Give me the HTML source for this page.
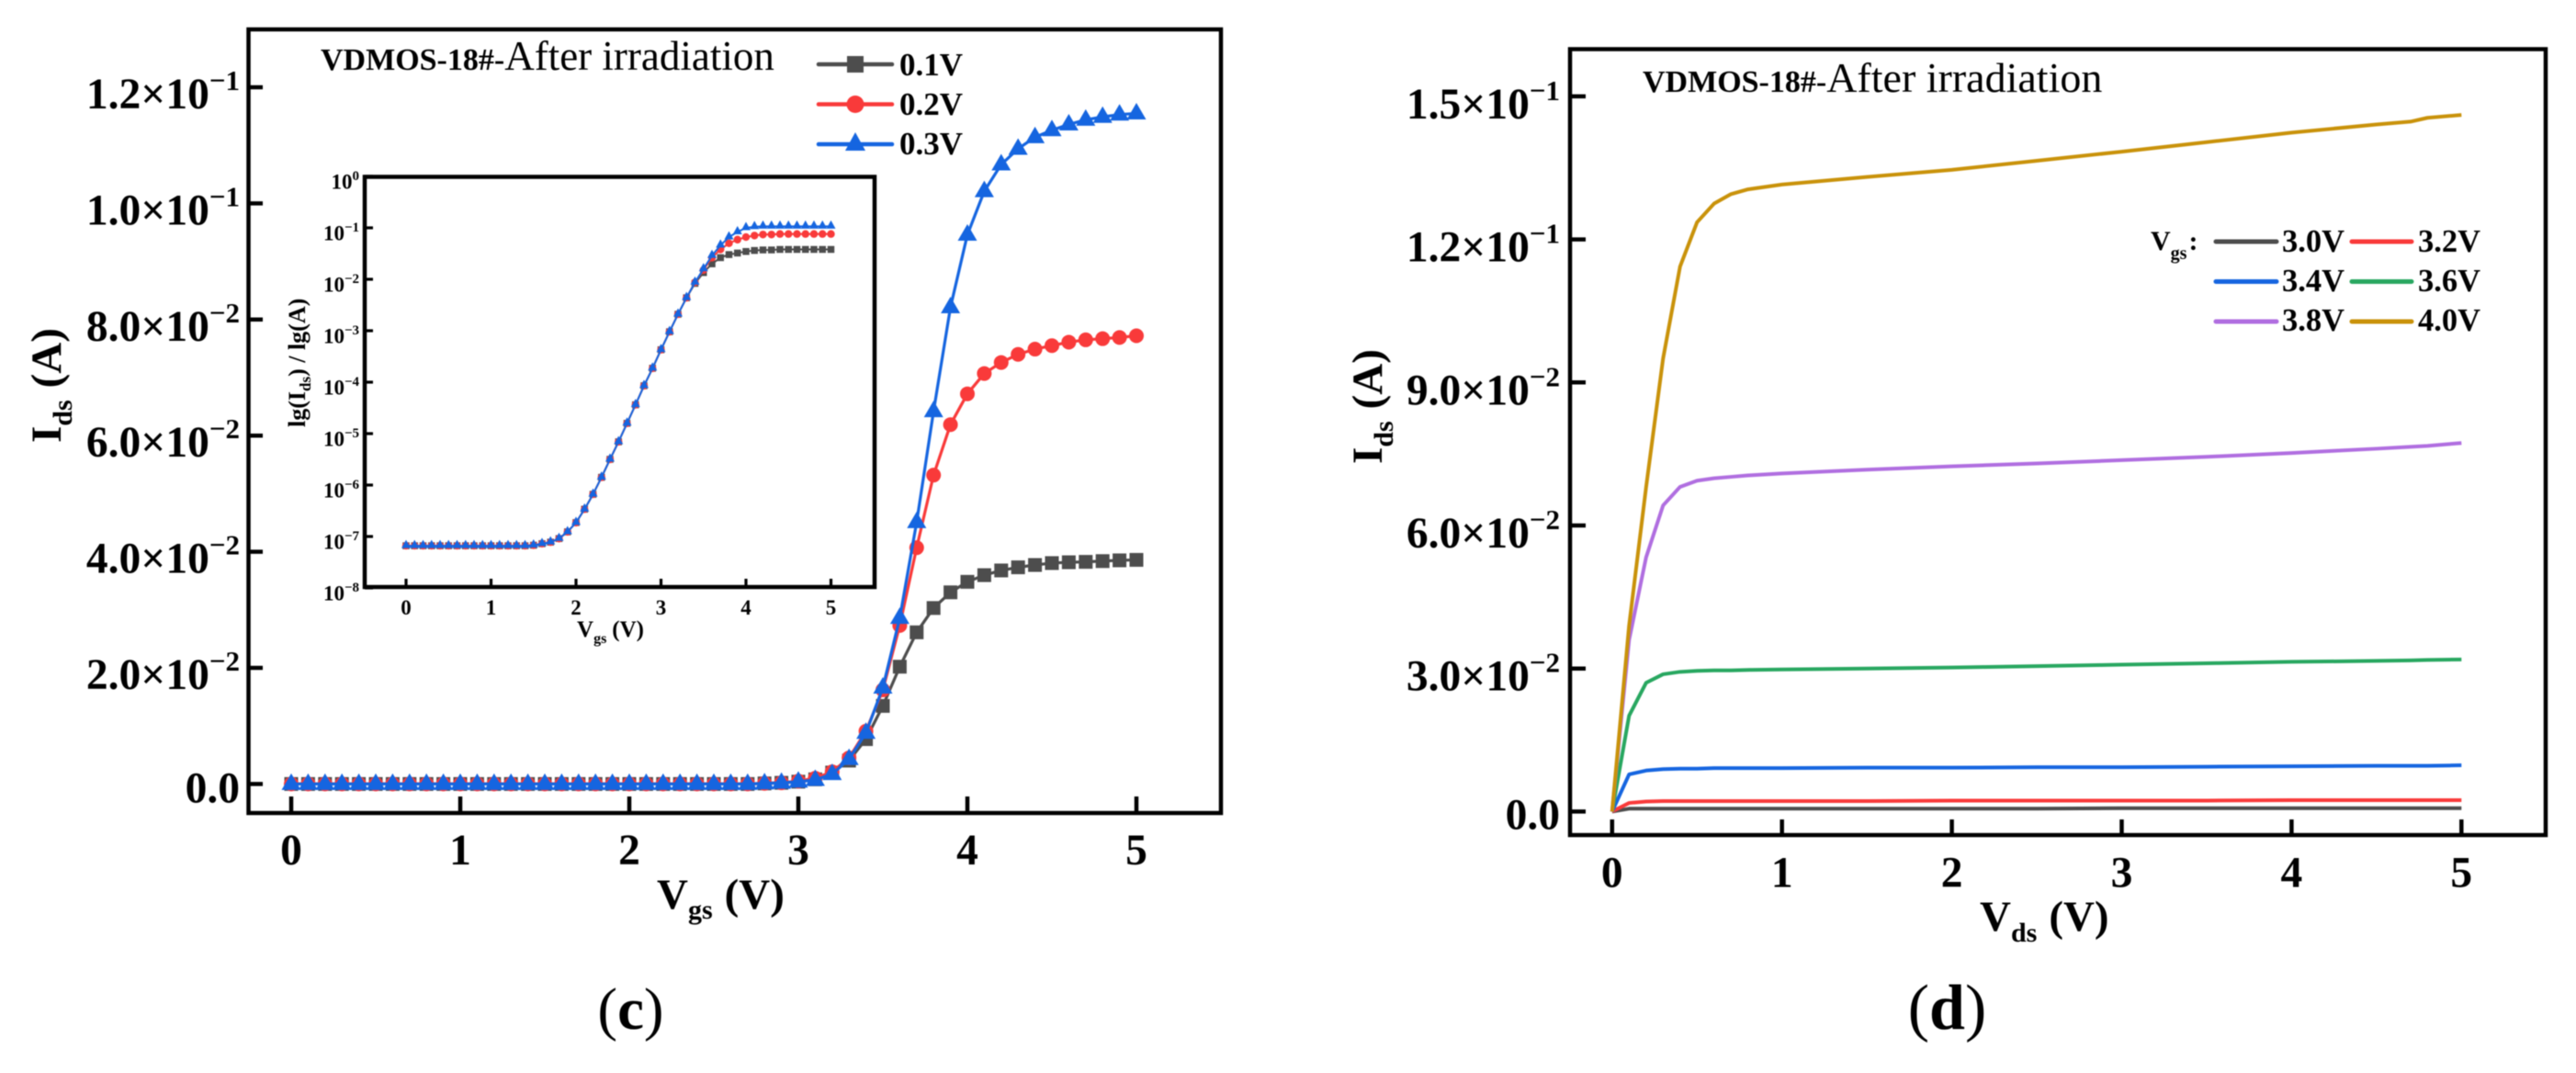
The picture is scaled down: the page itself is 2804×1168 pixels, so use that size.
<!DOCTYPE html>
<html lang="en">
<head>
<meta charset="utf-8">
<title>VDMOS-18# After irradiation</title>
<style>
html,body{margin:0;padding:0;background:#fff;width:2804px;height:1168px;overflow:hidden}
svg{display:block;filter:blur(.55px)}
text{font-family:"Liberation Serif",serif;fill:#000}
.b{font-weight:bold}
.axis{fill:none;stroke:#000;stroke-width:4.5}
.tick{stroke:#000;stroke-width:4.5}
.itick{stroke:#000;stroke-width:3.2}
.curve{fill:none;stroke-linejoin:round}
</style>
</head>
<body>
<svg id="figure" xmlns="http://www.w3.org/2000/svg" width="2804" height="1168" viewBox="0 0 2804 1168">
  <rect width="2804" height="1168" fill="#fff"/>

  <g id="panelC">
    <rect class="axis" x="270.5" y="32" width="1058.5" height="853"/>
    <text x="349" y="76"><tspan class="b" font-size="34">VDMOS-18#-</tspan><tspan font-size="45">After irradiation</tspan></text>
    <text class="b" x="715" y="989" font-size="47">V<tspan font-size="30" dy="11">gs</tspan><tspan font-size="47" dy="-11" dx="13">(V)</tspan></text>
    <text class="b" transform="translate(66 482) rotate(-90)" font-size="47">I<tspan font-size="30" dy="12">ds</tspan><tspan font-size="47" dy="-12" dx="13">(A)</tspan></text>
    <text x="686.5" y="1120" text-anchor="middle" font-size="65">(<tspan class="b">c</tspan>)</text>
    <g>
      <line x1="891" x2="971" y1="70" y2="70" stroke="#4d4d4d" stroke-width="4.5" stroke-linecap="round"/>
      <rect x="922" y="61" width="18" height="18" fill="#4d4d4d"/>
      <text class="b" x="979" y="82" font-size="35">0.1V</text>
      <line x1="891" x2="971" y1="113.5" y2="113.5" stroke="#f93a3a" stroke-width="4.5" stroke-linecap="round"/>
      <circle cx="931" cy="113.5" r="9.5" fill="#f93a3a"/>
      <text class="b" x="979" y="125" font-size="35">0.2V</text>
      <line x1="891" x2="971" y1="157" y2="157" stroke="#1565e0" stroke-width="4.5" stroke-linecap="round"/>
      <polygon points="931,144 942,164 920,164" fill="#1565e0"/>
      <text class="b" x="979" y="168" font-size="35">0.3V</text>
    </g>
  </g>

  <g id="inset">
    <rect class="axis" x="397" y="192.5" width="555" height="446.5"/>
    <text class="b" x="628" y="693" font-size="25">V<tspan font-size="16" dy="7">gs</tspan><tspan font-size="25" dy="-7" dx="6">(V)</tspan></text>
    <text class="b" transform="translate(332 465) rotate(-90)" font-size="26">lg(I<tspan font-size="17" dy="6">ds</tspan><tspan font-size="26" dy="-6">) / lg(A)</tspan></text>
  </g>

  <g id="panelD">
    <rect class="axis" x="1709" y="53.5" width="1062" height="855.5"/>
    <text x="1788" y="100"><tspan class="b" font-size="34">VDMOS-18#-</tspan><tspan font-size="46">After irradiation</tspan></text>
    <text class="b" x="2155" y="1013" font-size="47">V<tspan font-size="30" dy="12">ds</tspan><tspan font-size="47" dy="-12" dx="13">(V)</tspan></text>
    <text class="b" transform="translate(1504 505) rotate(-90)" font-size="47">I<tspan font-size="30" dy="12">ds</tspan><tspan font-size="47" dy="-12" dx="13">(A)</tspan></text>
    <text x="2119.5" y="1120" text-anchor="middle" font-size="70">(<tspan class="b">d</tspan>)</text>
    <g>
      <text class="b" x="2341" y="272" font-size="30">V<tspan font-size="20" dy="10">gs</tspan><tspan font-size="30" dy="-10" dx="2">:</tspan></text>
      <line x1="2412" x2="2478" y1="263" y2="263" stroke="#4d4d4d" stroke-width="5" stroke-linecap="round"/>
      <text class="b" x="2484" y="274" font-size="34.5">3.0V</text>
      <line x1="2560" x2="2625" y1="263" y2="263" stroke="#f93a3a" stroke-width="5" stroke-linecap="round"/>
      <text class="b" x="2632" y="274" font-size="34.5">3.2V</text>
      <line x1="2412" x2="2478" y1="306.5" y2="306.5" stroke="#1565e0" stroke-width="5" stroke-linecap="round"/>
      <text class="b" x="2484" y="317" font-size="34.5">3.4V</text>
      <line x1="2560" x2="2625" y1="306.5" y2="306.5" stroke="#28a760" stroke-width="5" stroke-linecap="round"/>
      <text class="b" x="2632" y="317" font-size="34.5">3.6V</text>
      <line x1="2412" x2="2478" y1="350" y2="350" stroke="#b06ee0" stroke-width="5" stroke-linecap="round"/>
      <text class="b" x="2484" y="360" font-size="34.5">3.8V</text>
      <line x1="2560" x2="2625" y1="350" y2="350" stroke="#c9920a" stroke-width="5" stroke-linecap="round"/>
      <text class="b" x="2632" y="360" font-size="34.5">4.0V</text>
    </g>
  </g>
</svg>

<script>
/* ---------- Panel (c) transfer curves: Vgs 0..5 V in 0.1 V steps ---------- */
const vgs = [0,0.1,0.2,0.3,0.4,0.5,0.6,0.7,0.8,0.9,1,1.1,1.2,1.3,1.4,1.5,1.6,1.7,1.8,1.9,2,2.1,2.2,2.3,2.4,2.5,2.6,2.7,2.8,2.9,3,3.1,3.2,3.3,3.4,3.5,3.6,3.7,3.8,3.9,4,4.1,4.2,4.3,4.4,4.5,4.6,4.7,4.8,4.9,5];
const ids01 = [0,0,0,0,0,0,0,0,0,0,0,0,0,0,0,0,0,0,0,0,0,0,0,0,0,0,0,0,0.0001,0.0002,0.0004,0.0008,0.00197,0.00403,0.00773,0.01345,0.0202,0.02612,0.03031,0.03301,0.03482,0.03597,0.03678,0.03732,0.03772,0.03805,0.03819,0.03826,0.03839,0.03852,0.0386];
const ids02 = [0,0,0,0,0,0,0,0,0,0,0,0,0,0,0,0,0,0,0,0,0,0,0,0,0,0,0,0,0.0001,0.0002,0.0005,0.001,0.0021,0.0045,0.0091,0.0162,0.0273,0.0407,0.0532,0.0619,0.0672,0.0707,0.0726,0.074,0.0749,0.0755,0.0761,0.0765,0.0767,0.0769,0.0772];
const ids03 = [0,0,0,0,0,0,0,0,0,0,0,0,0,0,0,0,0,0,0,0,0,0,0,0,0,0,0,0,0.0001,0.0002,0.0004,0.0007,0.0017,0.0043,0.0088,0.0166,0.0286,0.0451,0.0642,0.0821,0.0946,0.1021,0.1067,0.1094,0.1114,0.1126,0.1136,0.1144,0.1149,0.1153,0.1155];
const idsYTicks = [0,0.02,0.04,0.06,0.08,0.1,0.12];
const idsYMantissas = ["0.0","2.0×10","4.0×10","6.0×10","8.0×10","1.0×10","1.2×10"];
const idsYExponents = ["","−2","−2","−2","−2","−1","−1"];
const vgsTicks = [0,1,2,3,4,5];

/* ---------- Inset: log10(Ids) ---------- */
const lg01 = [-7.18,-7.18,-7.18,-7.18,-7.18,-7.18,-7.18,-7.18,-7.18,-7.18,-7.18,-7.18,-7.18,-7.18,-7.18,-7.17,-7.14,-7.11,-7.04,-6.91,-6.73,-6.47,-6.18,-5.85,-5.5,-5.16,-4.8,-4.44,-4.07,-3.73,-3.37,-3.02,-2.68,-2.36,-2.08,-1.87,-1.7,-1.58,-1.52,-1.49,-1.46,-1.44,-1.43,-1.43,-1.42,-1.42,-1.42,-1.42,-1.42,-1.42,-1.42];
const lg02 = [-7.18,-7.18,-7.18,-7.18,-7.18,-7.18,-7.18,-7.18,-7.18,-7.18,-7.18,-7.18,-7.18,-7.18,-7.18,-7.17,-7.14,-7.11,-7.04,-6.91,-6.73,-6.47,-6.18,-5.85,-5.5,-5.16,-4.8,-4.44,-4.07,-3.73,-3.37,-3.02,-2.68,-2.36,-2.06,-1.82,-1.58,-1.42,-1.3,-1.23,-1.18,-1.15,-1.13,-1.13,-1.12,-1.12,-1.12,-1.12,-1.12,-1.12,-1.12];
const lg03 = [-7.18,-7.18,-7.18,-7.18,-7.18,-7.18,-7.18,-7.18,-7.18,-7.18,-7.18,-7.18,-7.18,-7.18,-7.18,-7.17,-7.14,-7.11,-7.04,-6.91,-6.73,-6.47,-6.18,-5.85,-5.5,-5.16,-4.8,-4.44,-4.07,-3.73,-3.37,-3.02,-2.68,-2.36,-2.06,-1.8,-1.54,-1.34,-1.18,-1.08,-1.0,-0.98,-0.97,-0.97,-0.97,-0.97,-0.97,-0.97,-0.97,-0.97,-0.97];
const lgTicks = [0,-1,-2,-3,-4,-5,-6,-7,-8];
const lgExponents = ["0","−1","−2","−3","−4","−5","−6","−7","−8"];

/* ---------- Panel (d) output curves ---------- */
const vds = [0,0.1,0.2,0.3,0.4,0.5,0.6,0.7,0.8,1,1.5,2,2.5,3,3.5,4,4.5,4.7,4.8,5];
const idVgs30 = [0,0.0006,0.0006,0.0006,0.0006,0.0006,0.0006,0.0006,0.0006,0.0006,0.0006,0.0006,0.0006,0.0007,0.0007,0.0007,0.0007,0.0007,0.0007,0.0007];
const idVgs32 = [0,0.0018,0.0021,0.0022,0.0022,0.0022,0.0022,0.0022,0.0022,0.0022,0.0022,0.0023,0.0023,0.0023,0.0023,0.0024,0.0024,0.0024,0.0024,0.0024];
const idVgs34 = [0,0.0078,0.0086,0.0089,0.009,0.009,0.0091,0.0091,0.0091,0.0091,0.0092,0.0092,0.0093,0.0093,0.0094,0.0095,0.0096,0.0096,0.0096,0.0097];
const idVgs36 = [0,0.0201,0.027,0.0288,0.0293,0.0295,0.0296,0.0296,0.0297,0.0298,0.03,0.0302,0.0305,0.0308,0.0311,0.0314,0.0316,0.0317,0.0318,0.0319];
const idVgs38 = [0,0.036,0.0533,0.0642,0.0681,0.0694,0.0699,0.0702,0.0705,0.0709,0.0717,0.0724,0.073,0.0737,0.0744,0.0752,0.0761,0.0765,0.0767,0.0773];
const idVgs40 = [0,0.039,0.068,0.095,0.1143,0.1236,0.1275,0.1295,0.1305,0.1315,0.1331,0.1346,0.1365,0.1384,0.1404,0.1424,0.1441,0.1447,0.1455,0.1461];
const idYTicks = [0,0.03,0.06,0.09,0.12,0.15];
const idYMantissas = ["0.0","3.0×10","6.0×10","9.0×10","1.2×10","1.5×10"];
const idYExponents = ["","−2","−2","−2","−1","−1"];
const vdsTicks = [0,1,2,3,4,5];

/* ---------- Axis functions ---------- */
const xC = v => 317 + 184 * v;
const yC = v => 853.4 - 6320 * v;
const xI = v => 442 + 92.5 * v;
const yI = v => 192 - 56 * v;
const xD = v => 1754.8 + 184.9 * v;
const yD = v => 883.4 - 5190 * v;

const NS = 'http://www.w3.org/2000/svg';
const panelC = document.getElementById('panelC');
const inset = document.getElementById('inset');
const panelD = document.getElementById('panelD');

function make(parent, tag, attrs) {
  const el = document.createElementNS(NS, tag);
  for (const k in attrs) el.setAttribute(k, attrs[k]);
  parent.appendChild(el);
  return el;
}
function polyline(parent, xs, ys, fx, fy, color, width) {
  const pts = xs.map((x, i) => fx(x).toFixed(2) + ',' + fy(ys[i]).toFixed(2)).join(' ');
  return make(parent, 'polyline', {points: pts, class: 'curve', stroke: color, 'stroke-width': width});
}
function mantissaLabel(parent, rightX, y, mant, exp, size, supSize, base, supBase) {
  const t = make(parent, 'text', {x: rightX, y: y + base, 'text-anchor': 'end', 'font-size': size, 'class': 'b'});
  t.textContent = mant;
  if (exp) {
    const s = document.createElementNS(NS, 'tspan');
    s.setAttribute('font-size', supSize);
    s.setAttribute('dy', supBase - base);
    s.textContent = exp;
    t.appendChild(s);
  }
  return t;
}

/* Panel (c) axes */
idsYTicks.forEach((v, i) => {
  const tick = make(panelC, 'line', {x1: 270, x2: 286, y1: yC(v), y2: yC(v), class: 'tick'});
  
  
  const label = mantissaLabel(panelC, 261, yC(v), idsYMantissas[i], idsYExponents[i], 47.5, 31, i === 0 ? 20 : 23, 3);
  
  
});
vgsTicks.forEach(v => {
  const tick = make(panelC, 'line', {x1: xC(v), x2: xC(v), y1: 867, y2: 885, class: 'tick'});
  
  
  const label = make(panelC, 'text', {x: xC(v), y: 941, 'text-anchor': 'middle', 'font-size': 47.5, 'class': 'b'});
  label.textContent = v;
  
  
});

/* Markers */
function squares(parent, xs, ys, fx, fy, color, side, name) {
  xs.forEach((x, i) => {
    const m = make(parent, 'rect', {x: fx(x) - side / 2, y: fy(ys[i]) - side / 2, width: side, height: side, fill: color});
    
    
  });
}
function circles(parent, xs, ys, fx, fy, color, r, name) {
  xs.forEach((x, i) => {
    const m = make(parent, 'circle', {cx: fx(x), cy: fy(ys[i]), r: r, fill: color});
    
    
  });
}
function triangles(parent, xs, ys, fx, fy, color, w, h, lift, name) {
  xs.forEach((x, i) => {
    const cx = fx(x), cy = fy(ys[i]) - lift;
    const m = make(parent, 'polygon', {points: cx + ',' + (cy - h / 2) + ' ' + (cx + w / 2) + ',' + (cy + h / 2) + ' ' + (cx - w / 2) + ',' + (cy + h / 2), fill: color});
    
    
  });
}

/* Panel (c) series */
const line01 = polyline(panelC, vgs, ids01, xC, yC, '#4d4d4d', 3.2);


squares(panelC, vgs, ids01, xC, yC, '#4d4d4d', 15, 'point-0-1v');
const line02 = polyline(panelC, vgs, ids02, xC, yC, '#f93a3a', 3.2);


circles(panelC, vgs, ids02, xC, yC, '#f93a3a', 8, 'point-0-2v');
const line03 = polyline(panelC, vgs, ids03, xC, yC, '#1565e0', 3.2);


triangles(panelC, vgs, ids03, xC, yC, '#1565e0', 21, 18, 2.5, 'point-0-3v');

/* Inset background sits above the main data */
const insetBg = document.createElementNS(NS, 'rect');
insetBg.setAttribute('x', 397);
insetBg.setAttribute('y', 192.5);
insetBg.setAttribute('width', 555);
insetBg.setAttribute('height', 446.5);
insetBg.setAttribute('fill', '#fff');


inset.insertBefore(insetBg, inset.firstChild);
panelC.parentNode.appendChild(inset);

/* Inset axes */
lgTicks.forEach((v, i) => {
  const tick = make(inset, 'line', {x1: 397, x2: 406, y1: yI(v), y2: yI(v), class: 'itick'});
  
  
  const label = mantissaLabel(inset, 391, yI(v), '10', lgExponents[i], 23, 15, 13.5, 4);
  
  
});
vgsTicks.forEach(v => {
  const tick = make(inset, 'line', {x1: xI(v), x2: xI(v), y1: 630, y2: 639, class: 'itick'});
  
  
  const label = make(inset, 'text', {x: xI(v), y: 669, 'text-anchor': 'middle', 'font-size': 23, 'class': 'b'});
  label.textContent = v;
  
  
});

/* Inset series */
const iLine01 = polyline(inset, vgs, lg01, xI, yI, '#4d4d4d', 2);


squares(inset, vgs, lg01, xI, yI, '#4d4d4d', 7.5, 'inset-point-0-1v');
const iLine02 = polyline(inset, vgs, lg02, xI, yI, '#f93a3a', 2);


circles(inset, vgs, lg02, xI, yI, '#f93a3a', 4.2, 'inset-point-0-2v');
const iLine03 = polyline(inset, vgs, lg03, xI, yI, '#1565e0', 2);


triangles(inset, vgs, lg03, xI, yI, '#1565e0', 10, 9, 2, 'inset-point-0-3v');

/* Panel (d) axes */
idYTicks.forEach((v, i) => {
  const tick = make(panelD, 'line', {x1: 1709, x2: 1726, y1: yD(v), y2: yD(v), class: 'tick'});
  
  
  const label = mantissaLabel(panelD, 1698, yD(v), idYMantissas[i], idYExponents[i], 47.5, 31, i === 0 ? 19 : 24, 4);
  
  
});
vdsTicks.forEach(v => {
  const tick = make(panelD, 'line', {x1: xD(v), x2: xD(v), y1: 892, y2: 909, class: 'tick'});
  
  
  const label = make(panelD, 'text', {x: xD(v), y: 965.5, 'text-anchor': 'middle', 'font-size': 47.5, 'class': 'b'});
  label.textContent = v;
  
  
});

/* Panel (d) series */
const d30 = polyline(panelD, vds, idVgs30, xD, yD, '#4d4d4d', 4);


const d32 = polyline(panelD, vds, idVgs32, xD, yD, '#f93a3a', 4);


const d34 = polyline(panelD, vds, idVgs34, xD, yD, '#1565e0', 4);


const d36 = polyline(panelD, vds, idVgs36, xD, yD, '#28a760', 4);


const d38 = polyline(panelD, vds, idVgs38, xD, yD, '#b06ee0', 4);


const d40 = polyline(panelD, vds, idVgs40, xD, yD, '#c9920a', 4);


</script>
</body>
</html>
